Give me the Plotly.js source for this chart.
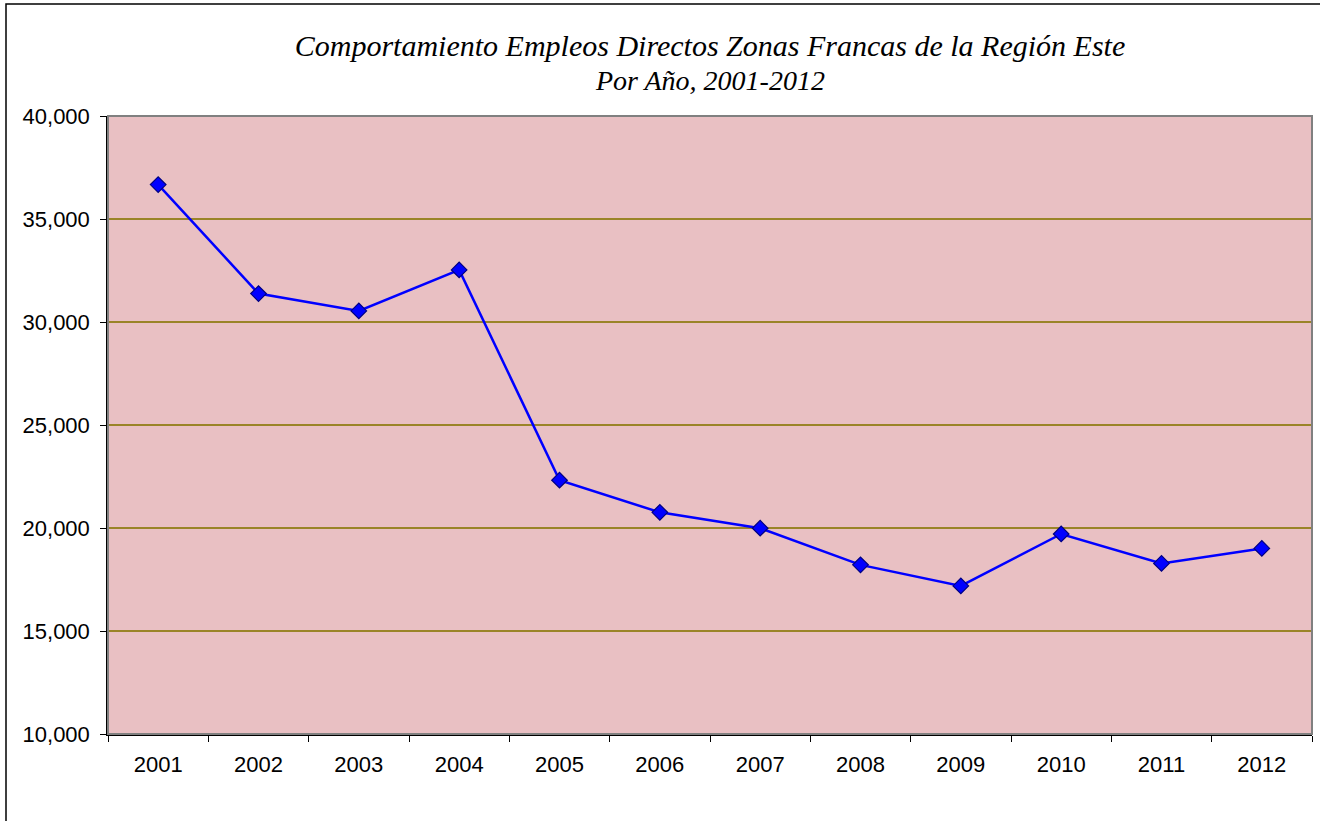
<!DOCTYPE html>
<html>
<head>
<meta charset="utf-8">
<script src="https://cdn.plot.ly/plotly-3.0.1.min.js"></script>
<style>html,body{margin:0;padding:0;background:#fff;}#chart{width:1320px;height:821px;}</style>
</head>
<body>
<div id="chart"></div>
<script>
const years = ["2001","2002","2003","2004","2005","2006","2007","2008","2009","2010","2011","2012"];
const empleos = [36670, 31380, 30540, 32530, 22320, 20760, 19990, 18210, 17190, 19710, 18280, 19010];
const yTicks = [10000, 15000, 20000, 25000, 30000, 35000, 40000];
const titleLine1 = "Comportamiento Empleos Directos Zonas Francas de la Región Este";
const titleLine2 = "Por Año, 2001-2012";

const trace = {
  x: years,
  y: empleos,
  type: "scatter",
  mode: "lines+markers",
  line: {color: "#0000FF", width: 2.5},
  marker: {symbol: "diamond", size: 12, color: "#0000FF", line: {color: "#000080", width: 1.2}},
  hoverinfo: "x+y"
};

const layout = {
  width: 1320, height: 821,
  margin: {l: 108, r: 8, t: 116, b: 87},
  paper_bgcolor: "#FFFFFF",
  plot_bgcolor: "#E9C0C3",
  showlegend: false,
  font: {family: "Liberation Sans, Arial, sans-serif", size: 22, color: "#000"},
  title: {
    text: "<i>" + titleLine1 + "</i>",
    font: {family: "Liberation Serif, Times New Roman, serif", size: 30, color: "#000"},
    x: 0.5, xref: "paper", xanchor: "center",
    y: 1 - 45/821, yref: "container", yanchor: "middle"
  },
  annotations: [{
    text: "<i>" + titleLine2 + "</i>",
    font: {family: "Liberation Serif, Times New Roman, serif", size: 28, color: "#000"},
    xref: "paper", yref: "paper", x: 0.5, y: (734-80)/618,
    xanchor: "center", yanchor: "middle", showarrow: false
  }],
  xaxis: {
    type: "category",
    range: [-0.5, 11.5],
    showline: true, linecolor: "#000", linewidth: 1.5,
    ticks: "outside", tickson: "boundaries", ticklen: 6, tickcolor: "#000", tickwidth: 1,
    showgrid: false, zeroline: false,
    tickfont: {size: 22, color: "#000"},
    ticklabelstandoff: 10,
    fixedrange: true
  },
  yaxis: {
    range: [10000, 40000],
    tickvals: yTicks,
    tickformat: ",d",
    showline: true, linecolor: "#000", linewidth: 1.5,
    ticks: "outside", ticklen: 6, tickcolor: "#000", tickwidth: 1,
    showgrid: true, gridcolor: "#9A8428", gridwidth: 1.5,
    zeroline: false,
    tickfont: {size: 22, color: "#000"},
    ticklabelstandoff: 6,
    fixedrange: true
  },
  shapes: [
    {type: "rect", xref: "paper", yref: "paper", x0: 0, x1: 1, y0: 0, y1: 1,
     line: {color: "#808080", width: 2}, fillcolor: "rgba(0,0,0,0)", layer: "above"},
    {type: "rect", xref: "paper", yref: "paper",
     x0: (6-108)/1204, x1: (1330-108)/1204, y0: (734-830)/618, y1: (734-4)/618,
     line: {color: "#000", width: 1.5}, fillcolor: "rgba(0,0,0,0)", layer: "above"}
  ]
};

Plotly.newPlot("chart", [trace], layout, {displayModeBar: false, staticPlot: false});
</script>
</body>
</html>
